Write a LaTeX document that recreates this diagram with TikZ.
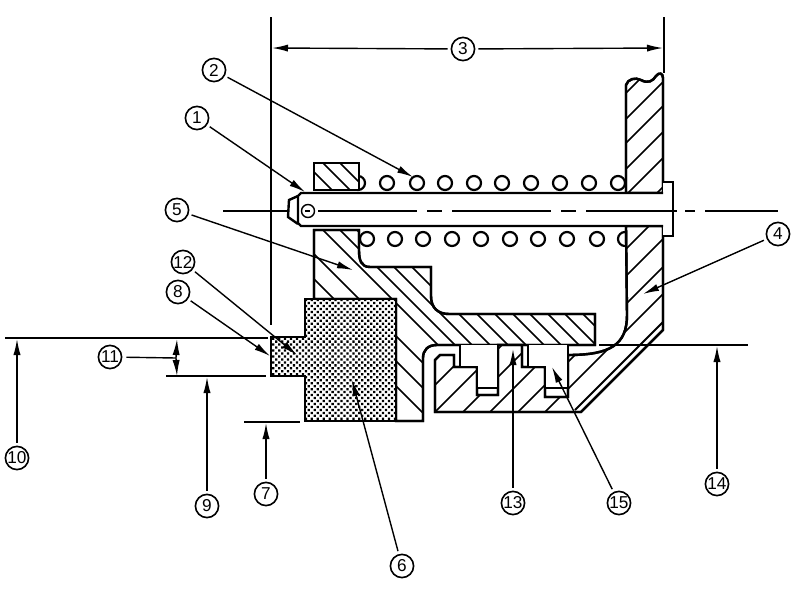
\documentclass[tikz,border=0pt]{standalone}
\usepackage{fontspec}
\setmainfont{Liberation Sans}
\usetikzlibrary{arrows.meta,patterns.meta}
\tikzset{
  callout/.style={draw,circle,line width=.8pt,minimum size=11.6pt,inner sep=0pt,fill=white,
    font=\fontsize{8.6}{10}\selectfont},
  part/.style={draw,fill=white,line width=1.2pt,line join=miter},
  hatchline/.style={line width=.75pt},
  thinline/.style={line width=.7pt},
  dimline/.style={line width=.7pt,-{Latex[length=8pt,width=3.6pt]},shorten <=1.5pt},
  coil/.style={draw,line width=1.1pt,fill=white},
  stipple/.style={pattern={Dots[distance=2.1pt,radius=.8pt,angle=45]},pattern color=black},
}
% outlines, in image pixels
\def\guidepath{(314,163) rectangle (359,190)}
\def\flangepath{(314,230) -- (359,230) -- (359,250) .. controls (359,260) and (361,267) .. (370,267)
  -- (431,267) -- (431,296) .. controls (431,308) and (438,314) .. (449,314) -- (595,314) -- (595,345)
  -- (437,345) .. controls (428,345) and (423,350) .. (423,358) -- (423,421) -- (396,421) -- (396,299)
  -- (314,299) -- cycle}
\def\platepath{(626,193) -- (626,85) .. controls (628,79) and (635,77) .. (641,80)
  .. controls (648,84) and (653,81) .. (656,76) .. controls (659,72) and (663,73) .. (663,78)
  -- (663,193) -- cycle}
\def\bodypath{(626,226) -- (663,226) -- (663,330) -- (581,412) -- (435,412) -- (435,360) -- (440,355)
  -- (454,355) -- (454,367) -- (477,367) -- (477,395) -- (498,395) -- (498,345) -- (522,345) -- (522,367)
  -- (545,367) -- (545,397) -- (568,397) -- (568,355) .. controls (610,355) and (627,345) .. (627,315) -- cycle}
\def\sealpath{(305,299) -- (396,299) -- (396,421) -- (305,421) -- (305,376) -- (271,376) -- (271,337)
  -- (305,337) -- cycle}
\newcommand{\hatchback}[1]{\foreach \c in {#1} \draw[hatchline] (200,{200-\c}) -- (700,{700-\c});}
\newcommand{\hatchfore}[1]{\foreach \c in {#1} \draw[hatchline] (400,{\c-400}) -- (700,{\c-700});}
\begin{document}
\begin{tikzpicture}[x=.5pt,y=-.5pt]
  \useasboundingbox (0,0) rectangle (800,600);
  % spring
  \foreach \px in {358,387,417,445,474,502,531,560,589,618} \draw[coil] (\px,183) circle (7);
  \foreach \px in {367,395,423,452,481,510,538,567,597,625} \draw[coil] (\px,239) circle (7);
  % hatched parts
  \path[part] \guidepath;
  \begin{scope} \clip \guidepath; \hatchback{142,160,177} \end{scope}
  \draw[line width=1.2pt] \guidepath;
  \path[part] \flangepath;
  \begin{scope} \clip \flangepath;
    \hatchback{10,35,60,93,110,127,145,163,181,199,216,234,251,269}
  \end{scope}
  \draw[line width=1.2pt] \flangepath;
  \path[part] \platepath;
  \begin{scope} \clip \platepath; \hatchfore{719,745,769,795,821,850} \end{scope}
  \draw[line width=1.2pt] \platepath;
  \path[part] \bodypath;
  \begin{scope} \clip \bodypath; \hatchfore{820,847,875,902,930,957} \end{scope}
  \draw[line width=1.2pt] \bodypath;
  \draw[line width=1pt] (663,322) -- (575,410);
  % seal teeth
  \draw[part] (460,345) -- (460,367) -- (477,367) -- (477,388) -- (498,388) -- (498,345);
  \draw[part] (528,345) -- (528,367) -- (545,367) -- (545,388) -- (568,388) -- (568,345);
  % pin
  \draw[part] (663,182) -- (673,182) -- (673,236) -- (663,236);
  \draw[part] (298,196) -- (289,200) -- (288,217) -- (298,224);
  \draw[part] (663,193) -- (301,193) -- (298,196) -- (298,223) -- (301,226) -- (663,226);
  \draw[thinline] (308,211) circle (6.5);
  \draw[thinline] (305,211) -- (310,211);
  % center line
  \draw[thinline] (223,211) -- (288,211);
  \draw[thinline,dash pattern=on 49.5pt off 5pt on 7.5pt off 5pt] (318,211) -- (677,211);
  \draw[thinline] (685,211) -- (695,211) (705,211) -- (778,211);
  % seal element
  \path[fill=white] \sealpath;
  \path[stipple] \sealpath;
  \draw[line width=1.2pt] \sealpath;
  % extension lines
  \draw[thinline] (271,17) -- (271,325);
  \draw[thinline] (664,17) -- (664,73);
  \draw[thinline] (5,338) -- (268,338);
  \draw[thinline] (166,376) -- (266,376);
  \draw[thinline] (244,422) -- (300,422);
  \draw[thinline] (599,345) -- (748,345);
  % arrow tips
  \coordinate (tip1) at (305,192); \coordinate (tip2) at (413,177);
  \coordinate (tip3l) at (272,48); \coordinate (tip3r) at (663,48);
  \coordinate (tip4) at (643,294); \coordinate (tip5) at (353,270);
  \coordinate (tip6) at (352,380); \coordinate (tip7) at (266,423);
  \coordinate (tip8) at (270,356); \coordinate (tip9) at (207,377);
  \coordinate (tip10) at (17,339); \coordinate (tip11a) at (177,339);
  \coordinate (tip11b) at (177,376); \coordinate (tip11c) at (176,358);
  \coordinate (tip12) at (297,355); \coordinate (tip13) at (513,349);
  \coordinate (tip14) at (717,346); \coordinate (tip15) at (552,367);
  % callouts
  \node (n1) at (197,118) [callout] {1};
  \node (n2) at (214,70) [callout] {2};
  \node (n3) at (463,49) [callout] {3};
  \node (n4) at (778,234) [callout] {4};
  \node (n5) at (177,210) [callout] {5};
  \node (n6) at (402,566) [callout] {6};
  \node (n7) at (266,494) [callout] {7};
  \node (n8) at (178,292) [callout] {8};
  \node (n9) at (207,506) [callout] {9};
  \node (n10) at (17,458) [callout] {10};
  \node (n11) at (110,357) [callout] {11};
  \node (n12) at (183,262) [callout] {12};
  \node (n13) at (513,503) [callout] {13};
  \node (n14) at (717,484) [callout] {14};
  \node (n15) at (619,503) [callout] {15};
  % leaders
  \foreach \k in {1,2,4,5,6,7,8,9,10,12,13,14,15} \draw[dimline] (n\k) -- (tip\k);
  \draw[dimline] (n3) -- (tip3l);
  \draw[dimline] (n3) -- (tip3r);
  \draw[thinline,shorten <=2pt] (n11) -- (tip11c);
  \draw[dimline,shorten <=0pt] (tip11c) -- (tip11a);
  \draw[dimline,shorten <=0pt] (tip11c) -- (tip11b);
\end{tikzpicture}
\end{document}
